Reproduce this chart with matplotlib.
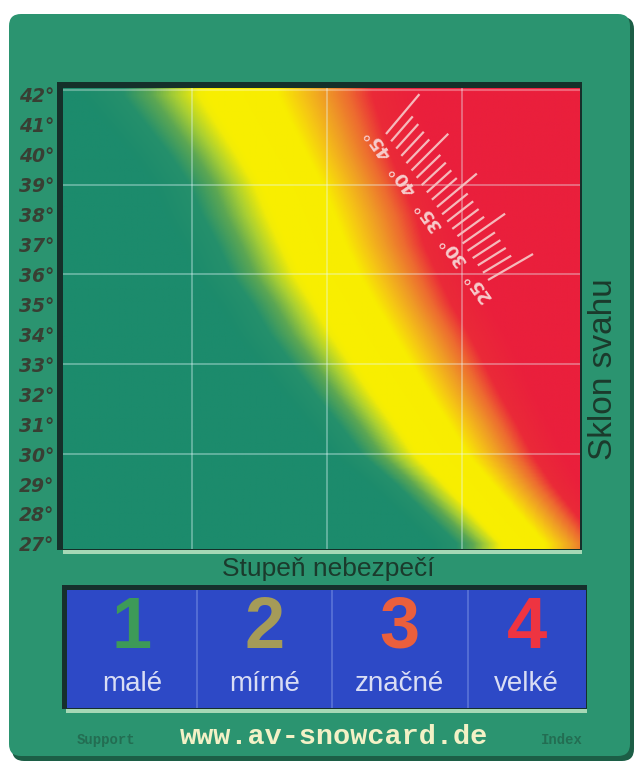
import matplotlib
matplotlib.use("Agg")
import matplotlib.pyplot as plt
import numpy as np
from matplotlib.colors import LinearSegmentedColormap
from matplotlib.patches import FancyBboxPatch, Rectangle

W, H = 635, 770

# slope rows (deg) and where the yellow core of the band sits on the danger axis
slopes = [27, 28, 29, 30, 31, 32, 33, 34, 35, 36, 37, 38, 39, 40, 41, 42]
yellow_center = [3.50, 3.30, 3.10, 2.90, 2.76, 2.61, 2.47, 2.33,
                 2.20, 2.07, 1.97, 1.88, 1.79, 1.67, 1.55, 1.43]
yellow_halfwidth = [0.20, 0.21, 0.22, 0.24, 0.25, 0.26, 0.27, 0.28,
                    0.28, 0.29, 0.29, 0.30, 0.30, 0.31, 0.33, 0.35]
grid_levels = [1, 2, 3]
grid_slopes = [30, 33, 36, 39]

levels = ["1", "2", "3", "4"]
level_names = ["malé", "mírné", "značné", "velké"]
level_colors = ["#3d9a58", "#a59b58", "#ea5f3c", "#ee3441"]

ruler_angles = list(range(25, 46))
ruler_labels = [25, 30, 35, 40, 45]

xlim = (0.044, 3.874)
ylim = (26.83, 42.23)

card_green = "#2b9470"
panel_blue = "#2d49c6"

fig = plt.figure(figsize=(W / 100, H / 100), dpi=100)
fig.patch.set_facecolor("white")

# card, frames, footer
bg = fig.add_axes([0, 0, 1, 1], zorder=0)
bg.set_xlim(0, W)
bg.set_ylim(H, 0)
bg.axis("off")
bg.add_patch(FancyBboxPatch((12, 17), 622, 744, boxstyle="round,pad=0,rounding_size=12",
                            fc="#1c5e46", ec="none"))
bg.add_patch(FancyBboxPatch((9, 14), 621, 742, boxstyle="round,pad=0,rounding_size=12",
                            fc=card_green, ec="none"))
bg.add_patch(Rectangle((57, 82), 525, 468, fc="#15302a", ec="none"))
bg.add_patch(Rectangle((63, 550), 519, 4, fc="#a6d8b6", ec="none"))
bg.add_patch(Rectangle((62, 585), 525, 124, fc="#16302c", ec="none"))
bg.add_patch(Rectangle((66, 709), 521, 4, fc="#a6d8b6", ec="none"))

bg.text(604, 369, "Sklon svahu", rotation=90, ha="center", va="center",
        fontsize=24, family="Liberation Sans", color="#1b3a2c")
bg.text(328, 569, "Stupeň nebezpečí", ha="center", va="center",
        fontsize=19, family="Liberation Sans", color="#1b3a2c")
bg.text(334, 737, "www.av-snowcard.de", ha="center", va="center", fontsize=20.5,
        family="Liberation Mono", fontweight="bold", color="#f3f1c6")
bg.text(106, 740, "Support", ha="center", va="center", fontsize=10,
        family="Liberation Mono", fontweight="bold", color="#236d52")
bg.text(562, 740, "Index", ha="center", va="center", fontsize=10,
        family="Liberation Mono", fontweight="bold", color="#236d52")

# main gradient chart
ax = fig.add_axes([63 / W, 1 - 549 / H, (580 - 63) / W, (549 - 88) / H], zorder=2)
stops = [(-3.6, "#1c8b6c"), (-2.7, "#25906b"), (-2.1, "#5ca753"), (-1.6, "#a9cf33"),
         (-1.1, "#f2ec06"), (-0.9, "#f8ef00"), (0.6, "#f8ed00"), (1.1, "#f5c416"),
         (1.6, "#ef9a26"), (2.1, "#ed6a30"), (2.6, "#ea2a38"), (3.6, "#ea1f3c")]
cmap = LinearSegmentedColormap.from_list("snow", [((u + 3.6) / 7.2, c) for u, c in stops])

xs = np.linspace(xlim[0], xlim[1], 600)
ys = np.linspace(ylim[0], ylim[1], 500)
cen = np.interp(ys, slopes, yellow_center)
hw = np.interp(ys, slopes, yellow_halfwidth)
u = (xs[None, :] - cen[:, None]) / hw[:, None]
ax.imshow(u, extent=[xlim[0], xlim[1], ylim[0], ylim[1]], origin="lower",
          aspect="auto", cmap=cmap, vmin=-3.6, vmax=3.6, interpolation="bilinear")
ax.vlines(grid_levels, ylim[0], ylim[1], color="#e8fbff", alpha=0.4, lw=1.2)
ax.hlines(grid_slopes, xlim[0], xlim[1], color="#e8fbff", alpha=0.4, lw=1.2)
ax.hlines([ylim[1] - 0.08], xlim[0], xlim[1], color="white", alpha=0.3, lw=1.5)
ax.set_xlim(*xlim)
ax.set_ylim(*ylim)
ax.set_xticks([])
ax.set_yticks(slopes)
ax.set_yticklabels([f"{s}°" for s in slopes], fontsize=13.5, fontweight="bold",
                   style="italic", color="#383f33")
ax.tick_params(axis="y", length=0, pad=6)
for sp in ax.spines.values():
    sp.set_visible(False)

# danger level panel
pan = fig.add_axes([67 / W, 1 - 708 / H, (586 - 67) / W, (708 - 590) / H], zorder=2)
pan.set_facecolor(panel_blue)
pan.set_xlim(*xlim)
pan.set_ylim(0, 1)
pan.vlines(grid_levels, 0, 1, color="#5a74d8", lw=1.2)
bounds = [xlim[0]] + grid_levels + [xlim[1]]
for i, (num, name, col) in enumerate(zip(levels, level_names, level_colors)):
    cx = (bounds[i] + bounds[i + 1]) / 2
    pan.text(cx, 0.67, num, ha="center", va="center", fontsize=52,
             fontweight="bold", family="Liberation Sans", color=col)
    pan.text(cx, 0.2, name, ha="center", va="center", fontsize=20,
             family="Liberation Sans", color="#d9ddf4")
pan.set_xticks([])
pan.set_yticks([])
for sp in pan.spines.values():
    sp.set_visible(False)

# inclinometer scale printed in the red area
ov = fig.add_axes([0, 0, 1, 1], zorder=3)
ov.set_xlim(0, W)
ov.set_ylim(H, 0)
ov.axis("off")
ov.patch.set_alpha(0)
p45 = np.array([386.0, 134.0])
p25 = np.array([488.0, 280.0])
for a in ruler_angles:
    base = p45 + (p25 - p45) * (45 - a) / 20
    phi = np.radians(a + 5)
    d = np.array([np.cos(phi), -np.sin(phi)])
    length = 52 if a % 5 == 0 else 33
    tip = base + d * length
    ov.plot([base[0], tip[0]], [base[1], tip[1]], color="#f5b9bb", lw=1.6,
            solid_capstyle="butt")
    if a in ruler_labels:
        lp = base - d * 12
        ov.text(lp[0], lp[1], f"{a}°", rotation=125, ha="center", va="center",
                fontsize=13, fontweight="bold", color="#f7cccc", rotation_mode="anchor")

fig.savefig("out.png", dpi=100, facecolor="white")
